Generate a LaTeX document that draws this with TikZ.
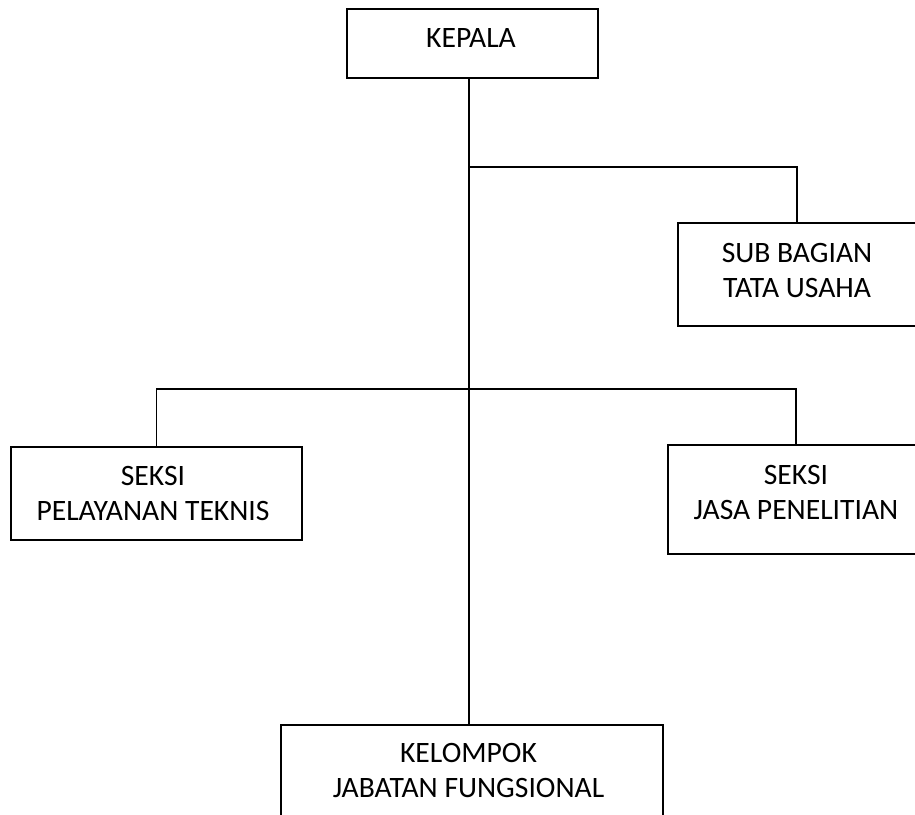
\documentclass[tikz,border=0pt]{standalone}
\usepackage{fontspec}
\setmainfont{Carlito}
\begin{document}
\begin{tikzpicture}[x=1pt,y=-1pt,
  box/.style={draw=black, line width=1.6pt, rectangle, inner sep=0pt},
  lbl/.style={inner sep=0pt, align=center, font=\fontsize{29.6}{35}\selectfont},
  conn/.style={draw=black, line width=1.6pt}]
\clip (0,0) rectangle (915,814);
\fill[white] (0,0) rectangle (915,814);
% boxes
\node[box, minimum width=251pt, minimum height=69pt] (kepala) at (472.5,43.5) {};
\node[box, minimum width=238pt, minimum height=103pt] (sub) at (797,274.5) {};
\node[box, minimum width=291pt, minimum height=93pt] (pel) at (156.5,493.5) {};
\node[box, minimum width=256pt, minimum height=109pt] (jasa) at (796,499.5) {};
\node[box, minimum width=382pt, minimum height=105pt] (kel) at (472,777.5) {};
% labels
\node[lbl] (kepalaT) at (471,38) {KEPALA};
\node[lbl] (subT) at (797,270) {SUB BAGIAN\\TATA USAHA};
\node[lbl] (pelT) at (153,493.5) {SEKSI\\PELAYANAN TEKNIS};
\node[lbl] (jasaT) at (796,492.5) {SEKSI\\JASA PENELITIAN};
\node[lbl] (kelT) at (468.5,770) {KELOMPOK\\JABATAN FUNGSIONAL};
% connectors
\coordinate (t1) at (469,167);
\coordinate (t2) at (469,389);
\draw[conn] (kepala.south -| t1) -- (kel.north -| t1);
\draw[conn] (t1) -| (sub.north);
\draw[conn] (pel.north) |- (t2) -| (jasa.north);
\end{tikzpicture}
\end{document}
